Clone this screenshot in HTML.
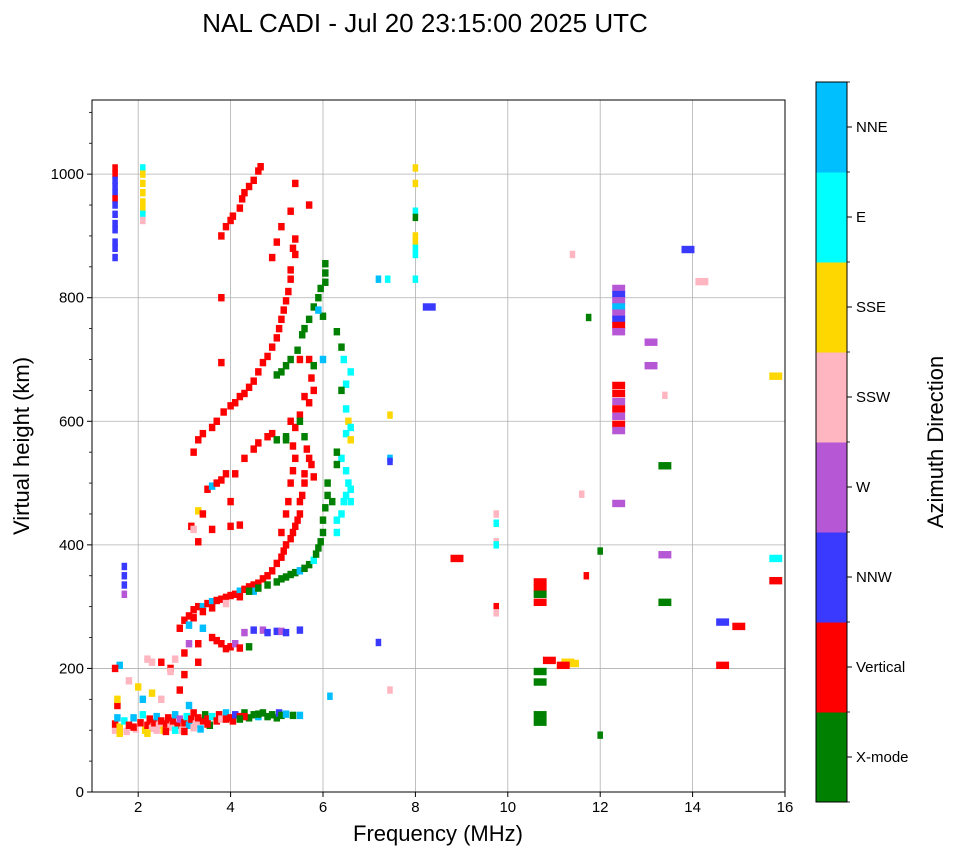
<!DOCTYPE html>
<html><head><meta charset="utf-8"><style>
body{margin:0;background:#fff;}
svg text{font-family:"Liberation Sans",sans-serif;fill:#000;}
</style></head><body>
<svg id="chart" width="958" height="857" viewBox="0 0 958 857" xmlns="http://www.w3.org/2000/svg">
<text x="425" y="32" font-size="26" text-anchor="middle">NAL CADI - Jul 20 23:15:00 2025 UTC</text>
<g id="grid"></g>
<g id="marks"></g>
<rect x="92" y="100" width="693" height="692" fill="none" stroke="#000" stroke-width="1"/>
<g id="axes"></g>
<text x="438" y="841" font-size="22" text-anchor="middle">Frequency (MHz)</text>
<text transform="translate(29,446) rotate(-90)" font-size="22" text-anchor="middle">Virtual height (km)</text>
<g id="cbar"></g>
<text transform="translate(943,442) rotate(-90)" font-size="22" text-anchor="middle">Azimuth Direction</text>
</svg>
<script>
const directions=["X-mode","Vertical","NNW","W","SSW","SSE","E","NNE"];
const dirColors=["#008000","#ff0000","#3a3aff","#b657d6","#ffb6c1","#ffd700","#00ffff","#00bfff"];
const xTicks=[2,4,6,8,10,12,14,16];
const yTicks=[0,200,400,600,800,1000];
const eLayer=[[1.5,100,4],[1.5,110,1],[1.55,120,7],[1.6,105,5],[1.7,115,6],[1.75,98,4],[1.8,108,1],[1.9,120,7],[1.95,102,4],[2.05,112,1],[2.1,125,6],[2.15,100,5],[2.2,108,1],[2.25,118,1],[2.3,103,4],[2.35,112,1],[2.4,122,7],[2.45,108,4],[2.5,115,1],[2.55,100,5],[2.6,110,1],[2.65,120,1],[2.7,105,4],[2.75,115,1],[2.8,125,7],[2.85,108,1],[2.9,118,3],[2.95,100,4],[3.0,112,1],[3.05,122,6],[3.1,108,7],[3.15,118,1],[3.2,128,1],[3.25,110,4],[3.3,120,1],[3.35,102,7],[3.4,115,1],[3.45,125,0],[3.5,118,1],[3.55,108,0],[3.6,122,6],[3.7,115,1],[3.75,125,1],[3.8,118,4],[3.9,128,7],[4.0,120,1],[4.05,115,1],[4.1,125,2],[4.2,122,1],[4.3,128,0],[4.4,120,0],[4.5,125,0],[4.6,122,7],[4.7,128,0],[4.8,122,0],[4.9,125,0],[5.0,120,0],[5.05,128,2],[5.1,124,0],[5.2,126,7],[5.35,124,0],[5.5,124,7],[1.6,95,5],[1.9,105,1],[2.2,95,5],[2.4,100,4],[2.6,98,1],[2.8,100,6],[3.0,98,1],[3.2,104,4],[3.5,110,1],[3.9,118,1],[4.3,122,1],[4.6,126,0],[4.2,118,0],[1.55,140,1],[1.55,150,5],[1.8,180,4],[2.0,170,5],[2.1,150,7],[2.3,160,5],[2.5,150,4],[2.7,200,1],[2.9,165,1],[3.0,190,1],[3.1,140,7],[2.2,215,4],[2.3,210,4],[2.5,210,1],[2.7,195,4],[1.6,205,7],[1.5,200,1],[3.0,225,1],[2.8,215,4]];
const spreadF=[[3.3,240,1],[3.6,250,1],[3.8,240,1],[3.9,232,1],[4.0,235,1],[4.1,240,3],[4.2,233,1],[3.4,265,7],[3.7,245,1],[4.4,235,0],[4.3,258,3],[4.5,262,2],[4.7,262,3],[4.8,258,2],[5.0,260,2],[5.1,260,3],[5.2,258,2],[5.5,262,2],[3.1,240,3],[3.3,210,1]];
const oTrace=[[2.9,265,1],[3.0,278,1],[3.1,285,1],[3.2,295,1],[3.3,300,1],[3.4,300,7],[3.5,305,1],[3.6,308,7],[3.7,310,1],[3.8,312,1],[3.9,315,1],[4.0,318,1],[4.1,320,1],[4.2,325,7],[4.3,328,1],[4.4,332,1],[4.5,335,1],[4.6,338,1],[4.7,345,1],[4.8,350,1],[4.9,358,1],[5.0,370,1],[5.1,380,1],[5.15,390,1],[5.2,400,1],[5.3,410,1],[5.35,420,1],[5.4,430,1],[5.45,440,1],[5.5,450,1],[5.5,470,1],[5.55,480,1],[5.6,500,1],[5.6,515,1],[5.7,540,1],[5.65,555,1],[5.75,530,1],[5.8,510,1],[3.1,270,7],[3.2,282,1],[3.4,292,1],[3.6,298,1],[3.9,305,4],[4.2,316,1],[4.5,325,7]];
const xTrace=[[4.4,325,0],[4.6,330,0],[4.8,335,0],[5.0,340,0],[5.1,345,0],[5.2,348,0],[5.3,352,0],[5.4,355,0],[5.5,358,7],[5.6,362,0],[5.7,368,0],[5.8,375,6],[5.85,385,0],[5.9,395,0],[5.95,405,0],[6.0,420,0],[6.0,440,0],[6.05,460,0],[6.1,480,0],[6.1,500,0],[6.3,420,6],[6.3,440,6],[6.4,450,6],[6.45,470,6],[6.5,480,6],[6.55,500,6],[6.6,470,6],[6.6,490,6],[6.5,520,6],[6.4,540,6],[6.3,530,0],[6.3,550,0],[6.2,470,0],[6.5,580,6],[6.55,600,5],[6.6,590,6],[6.5,620,6],[6.6,680,6],[6.45,700,6],[6.5,660,6],[6.6,570,5],[6.4,650,0],[6.3,745,0],[6.4,720,0]];
const multiHop=[[3.15,430,1],[3.2,425,4],[3.3,455,5],[3.4,450,1],[3.5,490,1],[3.6,495,7],[3.7,500,1],[3.8,505,1],[3.9,515,1],[4.1,515,1],[4.3,540,1],[4.5,555,1],[4.6,565,1],[4.8,575,1],[4.9,580,1],[3.6,425,1],[4.0,430,1],[4.2,432,1],[3.3,405,1],[4.0,470,1],[3.2,550,1],[3.3,570,1],[3.4,580,1],[3.6,590,1],[3.7,600,1],[3.85,615,1],[4.0,625,1],[4.1,630,1],[4.2,640,1],[4.3,645,1],[4.4,655,1],[4.5,665,1],[4.6,680,1],[4.7,695,1],[4.8,705,1],[4.9,720,1],[5.0,735,1],[5.05,750,1],[5.1,765,1],[5.15,780,1],[5.2,795,1],[5.25,810,1],[5.3,830,1],[5.3,845,1],[5.4,870,1],[5.35,880,1],[5.4,895,1],[5.1,420,1],[5.2,450,1],[5.25,470,1],[5.3,500,1],[5.35,520,1],[5.4,540,1],[5.35,560,1],[5.3,600,1],[5.4,590,1],[5.5,610,1],[5.6,640,1],[5.7,630,1],[5.8,650,1],[5.5,700,1],[5.7,700,1],[5.75,670,1],[5.6,575,0],[5.8,690,0],[5.0,675,0],[5.1,680,0],[5.2,690,0],[5.3,700,0],[5.45,715,0],[5.55,740,0],[5.6,750,0],[5.7,765,0],[5.8,785,0],[5.9,800,0],[5.95,815,0],[6.05,825,0],[6.05,840,0],[6.05,855,0],[6.0,770,0],[5.9,780,7],[6.0,700,7],[5.2,575,0],[5.0,570,0],[5.2,570,0],[5.5,600,0],[3.8,900,1],[3.9,915,1],[4.0,925,1],[4.05,932,1],[4.2,945,1],[4.25,960,1],[4.3,970,1],[4.4,980,1],[4.5,990,1],[4.6,1005,1],[4.65,1012,1],[5.1,915,1],[5.3,940,1],[5.4,985,1],[5.7,950,1],[3.8,695,1],[3.8,800,1],[4.9,865,1],[5.0,890,1]];
const columns=[[1.5,1010,1],[1.5,1000,1],[1.5,990,2],[1.5,980,2],[1.5,970,2],[1.5,960,1],[1.5,950,2],[1.5,935,2],[1.5,920,2],[1.5,910,2],[1.5,890,2],[1.5,880,2],[1.5,865,2],[2.1,1010,6],[2.1,1000,5],[2.1,985,5],[2.1,970,5],[2.1,955,5],[2.1,945,5],[2.1,935,6],[2.1,925,4],[1.7,365,2],[1.7,350,2],[1.7,335,2],[1.7,320,3],[8.0,1010,5],[8.0,985,5],[8.0,940,6],[8.0,930,0],[8.0,900,5],[8.0,890,5],[8.0,880,6],[8.0,870,6],[8.0,830,6],[7.2,830,7],[7.4,830,6],[6.15,155,7],[7.2,242,2],[7.45,165,4],[7.45,610,5],[7.45,540,7],[7.45,535,2],[9.75,450,4],[9.75,435,6],[9.75,405,4],[9.75,400,6],[9.75,300,1],[9.75,290,4],[11.4,870,4],[11.6,482,4],[11.7,350,1],[11.75,768,0],[12.0,390,0],[12.0,92,0],[13.4,642,4]];
const wideEchoes=[[8.3,785,2],[8.9,378,1],[10.7,340,1],[10.7,330,1],[10.7,320,0],[10.7,307,1],[10.7,195,0],[10.7,178,0],[10.7,125,0],[10.7,113,0],[10.9,213,1],[11.3,210,5],[11.4,208,5],[11.2,205,1],[12.4,815,3],[12.4,805,2],[12.4,795,3],[12.4,785,7],[12.4,775,3],[12.4,765,2],[12.4,755,1],[12.4,745,3],[12.4,658,1],[12.4,645,1],[12.4,632,3],[12.4,620,1],[12.4,608,3],[12.4,595,1],[12.4,585,3],[12.4,467,3],[13.1,728,3],[13.1,690,3],[13.4,528,0],[13.4,384,3],[13.4,307,0],[13.9,878,2],[14.2,826,4],[14.65,275,2],[14.65,205,1],[15.0,268,1],[15.8,673,5],[15.8,378,6],[15.8,342,1]];

const NS="http://www.w3.org/2000/svg";
const X0=92,X1=785,Y0=792,Y1=100,FMIN=1,FMAX=16,HMIN=0,HMAX=1120;
function xs(f){return X0+(f-FMIN)/(FMAX-FMIN)*(X1-X0);}
function ys(h){return Y0-(h-HMIN)/(HMAX-HMIN)*(Y0-Y1);}
function mk(tag,attrs,parent){const e=document.createElementNS(NS,tag);for(const k in attrs)e.setAttribute(k,attrs[k]);parent.appendChild(e);return e;}
const grid=document.getElementById('grid'),axes=document.getElementById('axes'),marks=document.getElementById('marks'),cbar=document.getElementById('cbar');
xTicks.forEach(t=>{const x=xs(t);
 const g=mk('line',{x1:x,x2:x,y1:Y1,y2:Y0,stroke:'#b0b0b0','stroke-width':0.8},grid);
 
 
 mk('line',{x1:x,x2:x,y1:Y0,y2:Y0+5,stroke:'#000'},axes);
 const tx=mk('text',{x:x,y:Y0+20,'font-size':15,'text-anchor':'middle'},axes);tx.textContent=t;
 
 
});
yTicks.forEach(t=>{const y=ys(t);
 const g=mk('line',{x1:X0,x2:X1,y1:y,y2:y,stroke:'#b0b0b0','stroke-width':0.8},grid);
 
 
 mk('line',{x1:X0-5,x2:X0,y1:y,y2:y,stroke:'#000'},axes);
 const tx=mk('text',{x:X0-8,y:y+5,'font-size':15,'text-anchor':'end'},axes);tx.textContent=t;
 
 
});
for(let h=50;h<HMAX;h+=50){if(h%200!==0)mk('line',{x1:X0-3,x2:X0,y1:ys(h),y2:ys(h),stroke:'#000','stroke-width':0.8},axes);}
function draw(list,w,name){list.forEach(p=>{
 const x=xs(p[0]-w/2),x2=xs(p[0]+w/2),y=ys(p[1]+6),y2=ys(p[1]-6);
 const r=mk('rect',{x:x,y:y,width:x2-x,height:y2-y,fill:dirColors[p[2]]},marks);
 
 
});}
draw(eLayer,0.14,'e-layer-echo');
draw(spreadF,0.14,'spread-f-echo');
draw(oTrace,0.14,'o-mode-trace-echo');
draw(xTrace,0.14,'x-mode-trace-echo');
draw(multiHop,0.14,'multi-hop-echo');
draw(columns,0.12,'column-echo');
draw(wideEchoes,0.28,'wide-echo');
const CX=816,CW=31,CT=82,CB=802,bh=(CB-CT)/directions.length;
directions.forEach((d,i)=>{const y=CB-(i+1)*bh;
 const r=mk('rect',{x:CX,y:y,width:CW,height:bh+0.5,fill:dirColors[i]},cbar);
 
 
 mk('line',{x1:CX+CW,x2:CX+CW+5,y1:y+bh/2,y2:y+bh/2,stroke:'#000'},cbar);
 const tx=mk('text',{x:CX+CW+9,y:y+bh/2+5,'font-size':15},cbar);tx.textContent=d;
 
 
});
for(let i=0;i<=directions.length;i++){const y=CB-i*bh;mk('line',{x1:CX+CW,x2:CX+CW+3,y1:y,y2:y,stroke:'#000','stroke-width':0.8},cbar);}
mk('rect',{x:CX,y:CT,width:CW,height:CB-CT,fill:'none',stroke:'#000','stroke-width':1},cbar);
</script>
</body></html>
